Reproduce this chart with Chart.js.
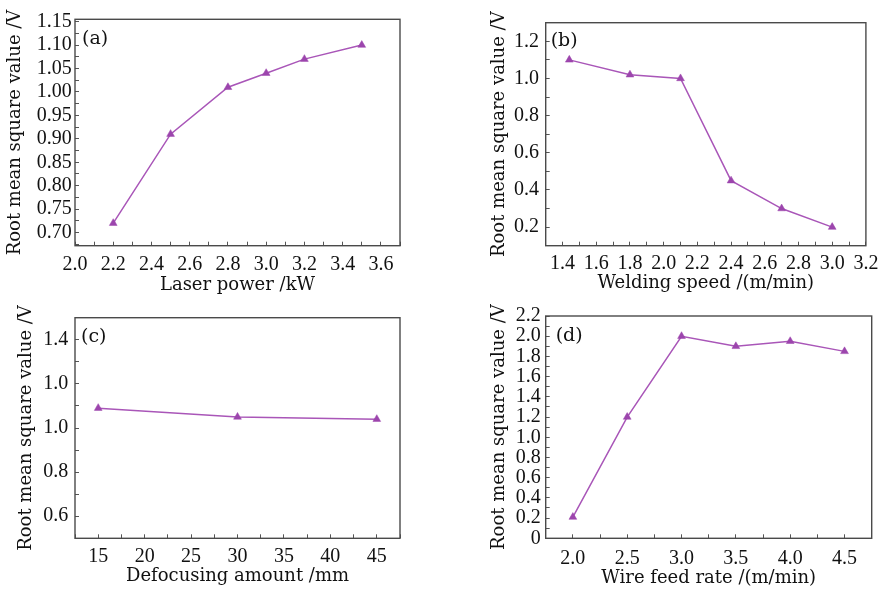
<!DOCTYPE html>
<html>
<head>
<meta charset="utf-8">
<script src="https://cdn.jsdelivr.net/npm/chart.js@4.4.1/dist/chart.umd.min.js"></script>
<style>
  html, body { margin: 0; padding: 0; background: #ffffff; }
  #wrap { position: relative; width: 888px; height: 590px; overflow: hidden; background: #fff; }
  canvas { position: absolute; }
</style>
</head>
<body>
<div id="wrap">
  <canvas id="ca" width="444" height="295" style="left:0px;top:0px"></canvas>
  <canvas id="cb" width="444" height="295" style="left:444px;top:0px"></canvas>
  <canvas id="cc" width="444" height="295" style="left:0px;top:295px"></canvas>
  <canvas id="cd" width="444" height="295" style="left:444px;top:295px"></canvas>
</div>
<script>
// ---- data ----
const laserPower   = [2.2, 2.5, 2.8, 3.0, 3.2, 3.5];
const rmsA         = [0.72, 0.91, 1.01, 1.04, 1.07, 1.10];
const weldingSpeed = [1.44, 1.8, 2.1, 2.4, 2.7, 3.0];
const rmsB         = [1.10, 1.02, 1.00, 0.45, 0.30, 0.20];
const defocusing   = [15, 30, 45];
const rmsC         = [1.09, 1.05, 1.04];
const wireFeed     = [2.0, 2.5, 3.0, 3.5, 4.0, 4.5];
const rmsD         = [0.21, 1.20, 2.00, 1.90, 1.95, 1.85];

// tick labels of panel (c) y-axis as printed in the figure (bottom to top)
const yTickLabelsC = ["0.6", "0.8", "1.0", "1.0", "1.4"];

const panelLetters = ["(a)", "(b)", "(c)", "(d)"];
const xTitles = ["Laser power /kW", "Welding speed /(m/min)", "Defocusing amount /mm", "Wire feed rate /(m/min)"];
const yTitle = "Root mean square value /V";

const LINE = '#a956b8';
const MARK = '#9c45ad';
const FRAME = '#4a4a4a';
const TICKC = '#555555';
const TICKFONT = { family: "'Liberation Serif', 'Times New Roman', serif", size: 20 };
const TITLEFONT = { family: "'DejaVu Serif', serif", size: 18, lineHeight: 1 };

function isMajor(v, major) {
  const r = v / major;
  return Math.abs(r - Math.round(r)) < 1e-6;
}

const framePlugin = {
  id: 'frame',
  afterDraw(chart, args, opts) {
    const a = chart.chartArea, ctx = chart.ctx;
    ctx.save();
    ctx.strokeStyle = FRAME;
    ctx.lineWidth = 1.4;
    ctx.strokeRect(a.left, a.top, a.right - a.left, a.bottom - a.top);
    ctx.fillStyle = '#111';
    ctx.font = "19px 'DejaVu Serif', serif";
    ctx.textBaseline = 'top';
    ctx.textAlign = 'left';
    ctx.fillText(opts.letter, a.left + opts.lx, a.top + opts.ly);
    ctx.restore();
  }
};

function makePanel(id, idx, xs, ys, cfg) {
  const data = xs.map((x, i) => ({ x: x, y: ys[i] }));
  new Chart(document.getElementById(id), {
    type: 'line',
    data: {
      datasets: [{
        data: data,
        borderColor: LINE,
        backgroundColor: MARK,
        borderWidth: 1.5,
        pointStyle: 'triangle',
        pointRadius: 4.5,
        pointBorderWidth: 0.5,
        pointBorderColor: MARK,
        pointBackgroundColor: MARK,
        tension: 0,
        fill: false
      }]
    },
    options: {
      responsive: false,
      animation: false,
      devicePixelRatio: 1,
      layout: { padding: { left: 0, top: cfg.top, right: 444 - cfg.right, bottom: 0 } },
      plugins: {
        legend: { display: false },
        tooltip: { enabled: false },
        frame: { letter: panelLetters[idx], lx: cfg.lx, ly: cfg.ly }
      },
      scales: {
        x: {
          type: 'linear',
          min: cfg.xmin, max: cfg.xmax,
          border: { display: false },
          grid: { drawOnChartArea: false, drawTicks: true, tickLength: -4, color: TICKC, lineWidth: 1 },
          ticks: {
            stepSize: cfg.xstep, includeBounds: false, maxTicksLimit: 1000, autoSkip: false,
            maxRotation: 0, minRotation: 0, padding: cfg.xpad, color: '#111', font: TICKFONT,
            callback: (v) => isMajor(v, cfg.xmajor) ? cfg.xfmt(v) : ''
          },
          title: { display: true, text: xTitles[idx], color: '#111', font: TITLEFONT, padding: { top: 0, bottom: cfg.xtp } },
          afterFit: (s) => { s.height = 295 - cfg.bottom; }
        },
        y: {
          type: 'linear',
          min: cfg.ymin, max: cfg.ymax,
          border: { display: false },
          grid: { drawOnChartArea: false, drawTicks: true, tickLength: -4, color: TICKC, lineWidth: 1 },
          ticks: {
            stepSize: cfg.ystep, includeBounds: false, maxTicksLimit: 1000, autoSkip: false,
            padding: cfg.ypad, color: '#111', font: TICKFONT,
            callback: (v) => isMajor(v, cfg.ymajor) ? cfg.yfmt(v) : ''
          },
          title: { display: true, text: yTitle, color: '#111', font: TITLEFONT, padding: { top: cfg.ytp, bottom: 0 } },
          afterFit: (s) => { s.width = cfg.left; }
        }
      }
    },
    plugins: [framePlugin]
  });
}

makePanel('ca', 0, laserPower, rmsA, {
  left: 75, right: 400, top: 15, bottom: 245.7,
  xmin: 2.0, xmax: 3.7, xstep: 0.1, xmajor: 0.2, xfmt: v => v.toFixed(1),
  ymin: 0.672, ymax: 1.155, ystep: 0.025, ymajor: 0.05, yfmt: v => v.toFixed(2),
  xpad: 11.3, ypad: 7.3, xtp: 1, ytp: 6, lx: 7, ly: 10
});
makePanel('cb', 1, weldingSpeed, rmsB, {
  left: 101.7, right: 427.7, top: 16.5, bottom: 245.7,
  xmin: 1.3, xmax: 3.2, xstep: 0.1, xmajor: 0.2, xfmt: v => v.toFixed(1),
  ymin: 0.1, ymax: 1.3, ystep: 0.1, ymajor: 0.2, yfmt: v => v.toFixed(1),
  xpad: 9.6, ypad: 10.7, xtp: 2.7, ytp: 46, lx: 5, ly: 9
});
makePanel('cc', 2, defocusing, rmsC, {
  left: 75, right: 400, top: 15, bottom: 243.3,
  xmin: 12.5, xmax: 47.5, xstep: 2.5, xmajor: 5, xfmt: v => String(Math.round(v)),
  ymin: 0.5, ymax: 1.5, ystep: 0.1, ymajor: 0.2,
  yfmt: v => yTickLabelsC[Math.round((v - 0.6) / 0.2)] || '',
  xpad: 10.4, ypad: 10.7, xtp: 4.3, ytp: 17.7, lx: 6, ly: 10
});
makePanel('cd', 3, wireFeed, rmsD, {
  left: 101.7, right: 427.7, top: 15, bottom: 243.3,
  xmin: 1.75, xmax: 4.75, xstep: 0.25, xmajor: 0.5, xfmt: v => v.toFixed(1),
  ymin: 0, ymax: 2.2, ystep: 0.1, ymajor: 0.2, yfmt: v => (Math.abs(v) < 1e-9 ? '0' : v.toFixed(1)),
  xpad: 12.0, ypad: 9, xtp: 2.7, ytp: 46, lx: 10, ly: 11
});
</script>
</body>
</html>
